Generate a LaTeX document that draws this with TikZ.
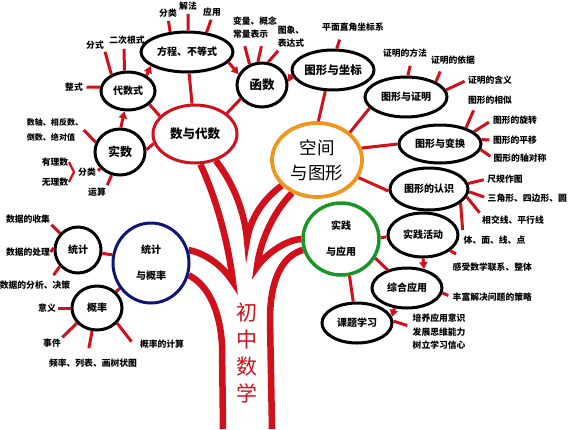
\documentclass[tikz,border=0pt]{standalone}
\usepackage{fontspec}
\setmainfont{Noto Sans CJK SC}
\usetikzlibrary{shapes.geometric,arrows.meta,backgrounds}
\definecolor{tred}{RGB}{208,16,26}
\definecolor{torange}{RGB}{240,150,30}
\definecolor{tgreen}{RGB}{25,150,40}
\definecolor{tnavy}{RGB}{15,20,120}
\begin{document}
\begin{tikzpicture}[x=1pt,y=-1pt,
 el/.style={ellipse, draw=black, fill=white, line width=3pt, inner sep=0pt, font=\fontsize{10}{12}\selectfont\bfseries},
 leaf/.style={inner sep=0.5pt, font=\fontsize{8.8}{13}\selectfont\bfseries},
 conn/.style={draw=tred, line width=3pt},
 arr/.style={conn, -{Triangle[length=7pt,width=8pt]}},
 trunk/.style={draw=tred, line width=6.5pt, line join=miter, miter limit=20},
]
\useasboundingbox (0,0) rectangle (575,429);

% main nodes
\node[el, draw=tred, minimum width=84, minimum height=58, font=\fontsize{12.5}{14}\selectfont\bfseries] (A) at (195,134) {数与代数};
\node[el, minimum width=92, minimum height=40] (E1) at (187,52) {方程、不等式};
\node[el, minimum width=54, minimum height=38] (D) at (128,91) {代数式};
\node[el, minimum width=50, minimum height=46, font=\fontsize{12}{14}\selectfont\bfseries] (R) at (120,152) {实数};
\node[el, minimum width=50, minimum height=44, font=\fontsize{12.5}{14}\selectfont\bfseries] (F) at (262,85) {函数};
\node[el, draw=torange, line width=3.8pt, minimum width=90, minimum height=74, align=center, font=\fontsize{17.5}{25}\selectfont] (B) at (317,160) {空间\\与图形};
\node[el, minimum width=82, minimum height=40, font=\fontsize{11.5}{13}\selectfont\bfseries] (G1) at (333,70) {图形与坐标};
\node[el, minimum width=82, minimum height=40] (G2) at (406,97) {图形与证明};
\node[el, minimum width=82, minimum height=38] (G3) at (440,144) {图形与变换};
\node[el, minimum width=78, minimum height=42] (G4) at (429,189) {图形的认识};
\node[el, draw=tgreen, line width=3.5pt, minimum width=76, minimum height=72, align=center, font=\fontsize{10}{26}\selectfont\bfseries] (C) at (341,239) {实践\\与应用};
\node[el, minimum width=70, minimum height=44] (P1) at (423,235) {实践活动};
\node[el, minimum width=70, minimum height=40] (P2) at (407,288) {综合应用};
\node[el, minimum width=70, minimum height=40] (P3) at (357,323) {课题学习};
\node[el, draw=tnavy, minimum width=76, minimum height=80, align=center, font=\fontsize{10}{26}\selectfont\bfseries] (T) at (151,263) {统计\\与概率};
\node[el, minimum width=46, minimum height=46] (S1) at (78,250) {统计};
\node[el, minimum width=50, minimum height=44] (S2) at (97,308) {概率};

\node[text=tred, align=center, font=\fontsize{21}{27}\selectfont] (title) at (247,353) {初\\中\\数\\学};

% main connectors
\draw[conn] (A) -- (E1);
\draw[conn] (A.153) -- (D.-32);
\draw[conn] (A.193) -- (R.5);
\draw[conn] (A.33) -- (F.213);
\draw[conn] (B.88) -- (G1.250);
\draw[conn] (B.40) -- (G2.197);
\draw[conn] (B.15) -- (G3.180);
\draw[conn] (B.-23) -- (G4.183);
\draw[conn] (C.2) -- (P1.183);
\draw[conn] (C.-29) -- (P2.137);
\draw[conn] (C.-77) -- (P3.100);
\draw[conn] (T.168) -- (S1.-8);
\draw[conn] (T.219) -- (S2.40);

% arrows
\draw[arr] (R.88) -- (D.260);
\draw[arr] (D.40) -- (E1.201);
\draw[arr] (E1.-14) -- (F.155);
\draw[arr] (G1.187) -- (F.7);
\draw[arr] (P1.270) -- (P2.48);
\draw[arr] (P2.238) -- (P3.10);

% leaves: 方程、不等式
\node[leaf] (e1a) at (168,13) {分类};
\node[leaf] (e1b) at (188,6) {解法};
\node[leaf] (e1c) at (212,12) {应用};
\draw[conn, shorten <=3pt] (e1a.south) -- (E1.130);
\draw[conn, shorten <=3pt] (e1b.south) -- (E1.87);
\draw[conn, shorten <=3pt] (e1c.south) -- (E1.45);

% 代数式
\node[leaf] (d1) at (95,45) {分式};
\node[leaf] (d2) at (127,40) {二次根式};
\node[leaf] (d3) at (74,87) {整式};
\draw[conn, shorten <=2pt] (d1.south east) -- (D.135);
\draw[conn, shorten <=4pt] ([xshift=-3pt]d2.south) -- (D.100);
\draw[conn, shorten <=3pt] (d3.east) -- (D.172);

% 实数
\node[leaf, align=left, font=\fontsize{8}{15}\selectfont\bfseries] (r1) at (55,130) {数轴、相反数、\\倒数、绝对值};
\node[leaf] (r2) at (55,162) {有理数};
\node[leaf] (r3) at (55,182) {无理数};
\node[leaf] (r4) at (87,172) {分类};
\node[leaf] (r5) at (97,192) {运算};
\coordinate (rb) at (74,172);
\draw[conn] (r1.east) -- (R.158);
\draw[conn, line width=2.2pt] (r2.east) -- (rb) -- (r3.east);
\draw[conn, shorten <=2pt] (r4.east) -- (R.220);
\draw[conn, shorten <=2pt] (r5.north east) -- (R.250);

% 函数
\node[leaf, align=left] (f1) at (255,28) {变量、概念\\常量表示};
\node[leaf, align=left] (f2) at (291,37) {图象、\\表达式};
\draw[conn, shorten <=7pt] ([xshift=-12pt]f1.south) -- (F.121);
\draw[conn, shorten <=7pt] ([xshift=8pt]f1.south) -- (F.100);
\draw[conn, shorten <=3pt] ([xshift=3pt]f2.south west) -- (F.75);

% 图形与坐标
\node[leaf] (g1a) at (353,27) {平面直角坐标系};
\draw[conn, shorten <=8pt] ([xshift=-11pt]g1a.south) -- (G1.80);

% 图形与证明
\node[leaf] (g2a) at (405,53) {证明的方法};
\node[leaf] (g2b) at (453,60) {证明的依据};
\node[leaf] (g2c) at (490,80) {证明的含义};
\draw[conn, shorten <=8pt] ([xshift=7pt]g2a.south) -- (G2.85);
\draw[conn, shorten <=7pt] ([xshift=-10pt]g2b.south) -- (G2.27);
\draw[conn, shorten <=3pt] (g2c.west) -- (G2.10);

% 图形与变换
\node[leaf] (g3a) at (490,100) {图形的相似};
\node[leaf] (g3b) at (515,120) {图形的旋转};
\node[leaf] (g3c) at (515,140) {图形的平移};
\node[leaf] (g3d) at (520,158) {图形的轴对称};
\draw[conn, shorten <=6pt] ([xshift=-14pt]g3a.south) -- (G3.32);
\draw[conn, shorten <=4pt] (g3b.west) -- (G3.20);
\draw[conn, shorten <=3pt] (g3c.west) -- (G3.6);
\draw[conn, shorten <=3pt] (g3d.west) -- (G3.-8);

% 图形的认识
\node[leaf] (g4a) at (505,179) {尺规作图};
\node[leaf, anchor=west] (g4b) at (487,198) {三角形、四边形、圆};
\node[leaf] (g4c) at (513,220) {相交线、平行线};
\node[leaf, anchor=west] (g4d) at (463,240) {体、面、线、点};
\draw[conn, shorten <=3pt] (g4a.west) -- (G4.8);
\draw[conn, shorten <=3pt] (g4b.west) -- (G4.-4);
\draw[conn, shorten <=3pt] (g4c.north west) -- (G4.-12);
\draw[conn, shorten <=5pt] (g4d.north west) -- (G4.-24);

% 实践活动 / 综合应用 / 课题学习
\node[leaf, anchor=west] (p1a) at (452,267) {感受数学联系、整体};
\draw[conn] ([xshift=4pt,yshift=8pt]p1a.north west) -- (P1.-30);
\node[leaf, anchor=west] (p2a) at (452,297) {丰富解决问题的策略};
\draw[conn, shorten <=4pt] (p2a.west) -- (P2.-8);
\node[leaf, align=left, anchor=west, font=\fontsize{8.8}{13.5}\selectfont\bfseries] (p3a) at (412,332) {培养应用意识\\发展思维能力\\树立学习信心};
\draw[conn, shorten <=5pt] ([yshift=5pt]p3a.west) -- (P3.3);

% 统计
\node[leaf] (s1a) at (28,219) {数据的收集};
\node[leaf] (s1b) at (28,252) {数据的处理};
\node[leaf] (s1c) at (35,285) {数据的分析、决策};
\draw[conn, shorten <=1pt] (s1a.south east) -- (S1.137);
\draw[conn] (s1b.east) -- (S1.175);
\draw[conn, shorten <=6pt] ([xshift=15pt]s1c.north) -- (S1.222);

% 概率
\node[leaf] (s2a) at (47,308) {意义};
\node[leaf] (s2b) at (52,343) {事件};
\node[leaf] (s2c) at (93,363) {频率、列表、画树状图};
\node[leaf] (s2d) at (162,344) {概率的计算};
\draw[conn, shorten <=1pt] (s2a.east) -- (S2.180);
\draw[conn, shorten <=1pt] (s2b.north east) -- (S2.217);
\draw[conn, shorten <=10pt] ([xshift=-6pt]s2c.north) -- (S2.258);
\draw[conn, shorten <=3pt] ([xshift=-6pt]s2d.west) -- (S2.-37);

% trunk
\begin{scope}[on background layer]
\draw[trunk] (T.-18) .. controls (208,285) and (220,310) .. (222,345) -- (223,429);
\draw[trunk] (T.19) .. controls (205,253) and (222,265) .. (233,282) .. controls (228,240) and (215,195) .. (A.-80);
\draw[trunk] (A.-52) .. controls (235,185) and (245,215) .. (247,240) .. controls (250,220) and (262,200) .. (B.216);
\draw[trunk] (B.233) .. controls (275,210) and (260,240) .. (257,267) .. controls (265,255) and (285,240) .. (C.180);
\draw[trunk] (C.196) .. controls (285,255) and (270,275) .. (270,320) -- (272,429);
\end{scope}
\end{tikzpicture}
\end{document}
